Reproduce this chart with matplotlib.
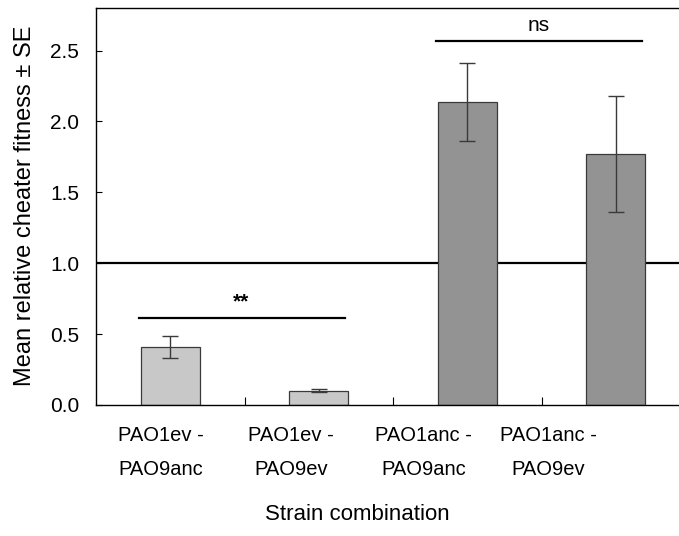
import matplotlib
matplotlib.use("Agg")
import matplotlib.pyplot as plt

plt.rcParams['font.family'] = ['Liberation Sans', 'DejaVu Sans']

categories = ["PAO1ev -\nPAO9anc", "PAO1ev -\nPAO9ev", "PAO1anc -\nPAO9anc", "PAO1anc -\nPAO9ev"]
means = [0.41, 0.10, 2.14, 1.77]
ses = [0.08, 0.01, 0.275, 0.41]
bar_colors = ["#C8C8C8", "#C8C8C8", "#939393", "#939393"]
label_positions = [-0.064, 0.815, 1.708, 2.547]
sig_labels = ["**", "ns"]
sig_pairs = [(0, 1), (2, 3)]
sig_heights = [0.615, 2.566]

W, H = 679, 536
fig = plt.figure(figsize=(W/100, H/100), dpi=100)
ax = fig.add_axes([96/W, (H-405)/H, (690-96)/W, (405-8)/H])

x = list(range(len(categories)))
ax.axhline(1.0, color="black", lw=1.6, zorder=1)
ax.bar(x, means, width=0.40, color=bar_colors, edgecolor="#3a3a3a", linewidth=0.9, zorder=2)
ax.errorbar(x, means, yerr=ses, fmt="none", ecolor="#3a3a3a", elinewidth=1.0,
            capsize=5.5, capthick=1.0, zorder=3)

for (a, b), h, lab in zip(sig_pairs, sig_heights, sig_labels):
    ax.plot([a - 0.21, b + 0.18], [h, h], color="black", lw=1.6, zorder=3)
    ax.text((a + b) / 2 - 0.02, h + 0.045, lab, ha="center", va="bottom", fontsize=15,
            fontweight="bold" if lab == "**" else "normal")

ax.set_xlim(-0.5, 3.5)
ax.set_ylim(0, 2.8)
ax.set_yticks([0, 0.5, 1.0, 1.5, 2.0, 2.5])
ax.set_yticklabels(["0.0", "0.5", "1.0", "1.5", "2.0", "2.5"])
ax.tick_params(axis="y", direction="in", length=4, width=0.8, labelsize=15, pad=12)

ax.set_xticks(label_positions)
ax.set_xticklabels(categories, linespacing=2.0)
ax.tick_params(axis="x", which="major", length=0, labelsize=14.5, pad=15)
ax.set_xticks([0.5, 1.5, 2.5], minor=True)
ax.tick_params(axis="x", which="minor", direction="in", length=6, width=0.8)

for s in ["left", "bottom", "top"]:
    ax.spines[s].set_linewidth(1.0)
ax.spines["right"].set_visible(False)

fig.text(25/W, 1 - 206/H, "Mean relative cheater fitness ± SE", rotation=90,
         ha="center", va="center", fontsize=17)
fig.text(357/W, 1 - 515/H, "Strain combination", ha="center", va="center", fontsize=16)

fig.savefig("out.png", dpi=100)
